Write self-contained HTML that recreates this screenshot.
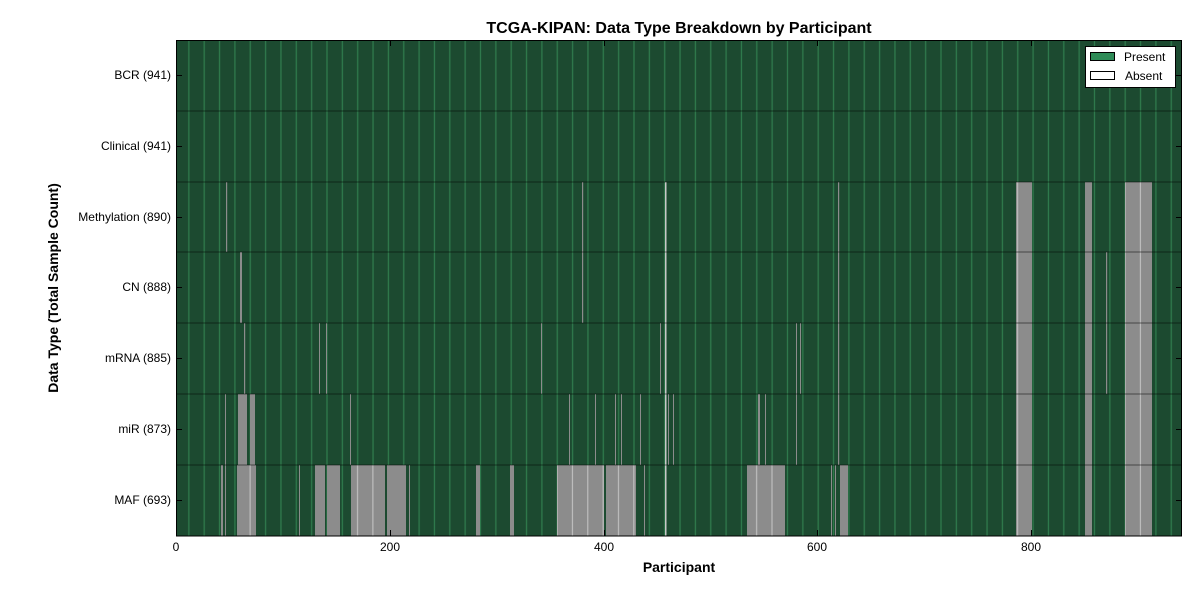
<!DOCTYPE html>
<html><head><style>
body{margin:0;background:#fff;width:1200px;height:600px;overflow:hidden;font-family:"Liberation Sans","DejaVu Sans",sans-serif}
</style></head><body>
<svg width="1200" height="600" xmlns="http://www.w3.org/2000/svg" font-family="Liberation Sans, DejaVu Sans, sans-serif">
<defs>
<pattern id="p" x="176" y="0" width="15.35" height="600" patternUnits="userSpaceOnUse">
<rect width="15.35" height="600" fill="#1c4a30"/>
<rect x="12.2" width="1.3" height="600" fill="#2f7a4c"/>
</pattern>
<pattern id="g" x="176" y="0" width="15.35" height="600" patternUnits="userSpaceOnUse">
<rect x="12.2" width="1" height="600" fill="#c8c8c8"/>
</pattern>
</defs>
<text x="679" y="33" text-anchor="middle" font-size="16" font-weight="bold">TCGA-KIPAN: Data Type Breakdown by Participant</text>
<rect x="176" y="40" width="1006" height="496" fill="url(#p)"/>
<g fill="#8c8c8c">
<rect x="226" y="182" width="1.2" height="70"/>
<rect x="582" y="182" width="1.2" height="141"/>
<rect x="665" y="182" width="1.5" height="354" fill="#c8c8c8"/>
<rect x="838" y="182" width="1.2" height="283"/>
<rect x="1016" y="182" width="16" height="354"/>
<rect x="1085" y="182" width="7" height="354"/>
<rect x="1125" y="182" width="27" height="354"/>
<rect x="240" y="252" width="2" height="71"/>
<rect x="1106" y="252" width="1.2" height="142"/>
<rect x="244" y="323" width="1.2" height="142"/>
<rect x="319" y="323" width="1" height="71"/>
<rect x="326" y="323" width="1" height="71"/>
<rect x="541" y="323" width="1" height="71"/>
<rect x="660" y="323" width="1" height="71"/>
<rect x="796" y="323" width="1" height="142"/>
<rect x="800" y="323" width="1" height="71"/>
<rect x="225" y="394" width="1" height="142"/>
<rect x="238" y="394" width="9" height="71"/>
<rect x="250" y="394" width="5" height="71"/>
<rect x="350" y="394" width="1" height="71"/>
<rect x="569" y="394" width="1" height="71"/>
<rect x="595" y="394" width="1" height="71"/>
<rect x="615" y="394" width="1" height="71"/>
<rect x="621" y="394" width="1" height="71"/>
<rect x="640" y="394" width="1" height="71"/>
<rect x="668" y="394" width="1" height="71"/>
<rect x="673" y="394" width="1" height="71"/>
<rect x="758" y="394" width="2" height="71"/>
<rect x="765" y="394" width="1" height="71"/>
<rect x="221" y="465" width="2" height="71"/>
<rect x="237" y="465" width="19" height="71"/>
<rect x="299" y="465" width="1" height="71"/>
<rect x="315" y="465" width="10" height="71"/>
<rect x="327" y="465" width="13" height="71"/>
<rect x="351" y="465" width="34" height="71"/>
<rect x="387" y="465" width="19" height="71"/>
<rect x="409" y="465" width="1" height="71"/>
<rect x="476" y="465" width="4" height="71"/>
<rect x="510" y="465" width="4" height="71"/>
<rect x="557" y="465" width="47" height="71"/>
<rect x="606" y="465" width="30" height="71"/>
<rect x="644" y="465" width="1" height="71"/>
<rect x="747" y="465" width="38" height="71"/>
<rect x="831" y="465" width="1" height="71"/>
<rect x="835" y="465" width="1" height="71"/>
<rect x="840" y="465" width="8" height="71"/>
</g>
<g fill="url(#g)">
<rect x="237" y="465" width="19" height="71"/>
<rect x="351" y="465" width="34" height="71"/>
<rect x="557" y="465" width="47" height="71"/>
<rect x="606" y="465" width="30" height="71"/>
<rect x="747" y="465" width="38" height="71"/>
<rect x="1016" y="182" width="16" height="354"/>
<rect x="1125" y="182" width="27" height="354"/>
</g>
<g stroke="#000" stroke-opacity="0.5" stroke-width="1">
<line x1="176" y1="111" x2="1182" y2="111"/>
<line x1="176" y1="182" x2="1182" y2="182"/>
<line x1="176" y1="252" x2="1182" y2="252"/>
<line x1="176" y1="323" x2="1182" y2="323"/>
<line x1="176" y1="394" x2="1182" y2="394"/>
<line x1="176" y1="465" x2="1182" y2="465"/>
</g>
<g stroke="#000" stroke-width="1">
<path d="M176 75.5h6M176 146.5h6M176 217.5h6M176 287.5h6M176 358.5h6M176 429.5h6M176 500.5h6"/>
<path d="M1182 75.5h-6M1182 146.5h-6M1182 217.5h-6M1182 287.5h-6M1182 358.5h-6M1182 429.5h-6M1182 500.5h-6"/>
<path d="M390.5 536v-6M604.5 536v-6M817.5 536v-6M1031.5 536v-6M390.5 40v6M604.5 40v6M817.5 40v6M1031.5 40v6"/>
</g>
<rect x="176.5" y="40.5" width="1005" height="495.5" fill="none" stroke="#000" stroke-width="1"/>
<g font-size="12" text-anchor="end">
<text x="171" y="79">BCR (941)</text>
<text x="171" y="150">Clinical (941)</text>
<text x="171" y="221">Methylation (890)</text>
<text x="171" y="291">CN (888)</text>
<text x="171" y="362">mRNA (885)</text>
<text x="171" y="433">miR (873)</text>
<text x="171" y="504">MAF (693)</text>
</g>
<g font-size="12" text-anchor="middle">
<text x="176" y="551">0</text>
<text x="390" y="551">200</text>
<text x="604" y="551">400</text>
<text x="817" y="551">600</text>
<text x="1031" y="551">800</text>
</g>
<text x="679" y="572" text-anchor="middle" font-size="14" font-weight="bold">Participant</text>
<text transform="translate(58,288) rotate(-90)" text-anchor="middle" font-size="14" font-weight="bold">Data Type (Total Sample Count)</text>
<rect x="1085.5" y="46.5" width="90" height="41" fill="#fff" stroke="#000"/>
<rect x="1090.5" y="52.5" width="24" height="8" fill="#2e8b57" stroke="#000"/>
<rect x="1090.5" y="71.5" width="24" height="8" fill="#fff" stroke="#000"/>
<text x="1124" y="61" font-size="12">Present</text>
<text x="1125" y="80" font-size="12">Absent</text>
</svg>
</body></html>
